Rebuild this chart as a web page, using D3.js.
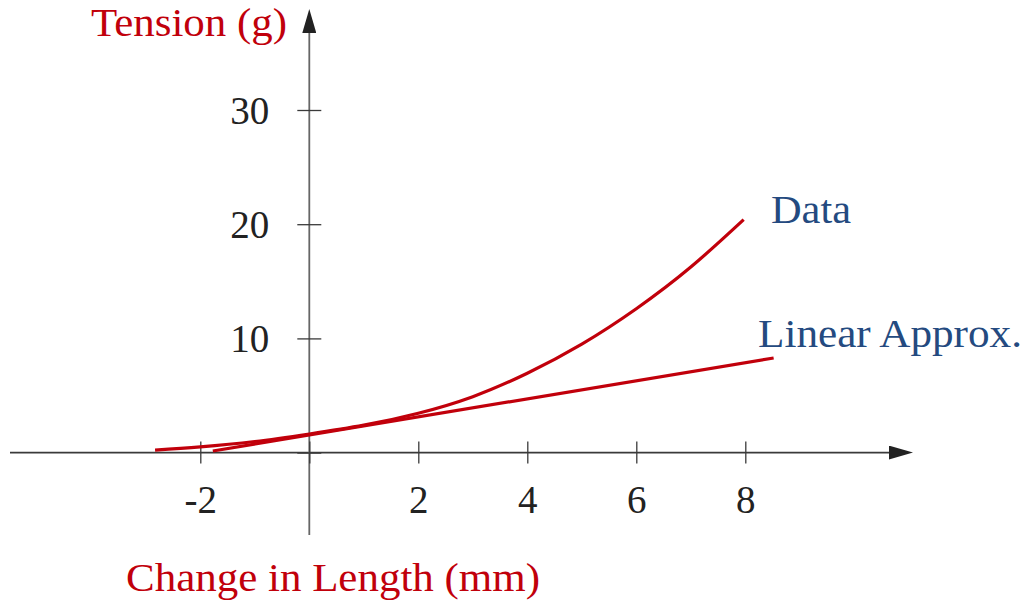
<!DOCTYPE html>
<html>
<head>
<meta charset="utf-8">
<script src="https://cdn.jsdelivr.net/npm/d3@7"></script>
<style>
  html, body { margin: 0; padding: 0; background: #fff; }
  svg { display: block; }
  text { font-family: "Liberation Serif", "DejaVu Serif", serif; }
</style>
</head>
<body>
<svg id="chart" width="1034" height="604"></svg>
<script>
// Measured tension of the string versus its change in length
const dataX = [-2.83, -2, -1, 0, 1, 2, 3, 4, 5, 6, 7, 7.97];
const dataY = [0.22, 0.5, 0.97, 1.63, 2.4, 3.45, 4.9, 6.95, 9.5, 12.6, 16.25, 20.4];

// Straight-line approximation (tangent near the origin)
const linearX = [-1.77, 8.52];
const linearY = [0.14, 8.28];

// Axis ticks
const xTicks = [-2, 0, 2, 4, 6, 8];
const xTickLabels = ["-2", "", "2", "4", "6", "8"];
const yTicks = [0, 10, 20, 30];
const yTickLabels = ["", "10", "20", "30"];

const RED = "#c1000b";
const BLUE = "#244a80";
const AXIS = "#3a3a3a";

const svg = d3.select("#chart");

const x = d3.scaleLinear().domain([-2, 8]).range([200.3, 745.3]);
const y = d3.scaleLinear().domain([0, 30]).range([452.6, 110]);

const x0 = x(0), y0 = y(0);

// Arrowheads
const defs = svg.append("defs");
defs.append("marker")
  .attr("id", "arrow")
  .attr("viewBox", "0 0 24 14")
  .attr("refX", 0).attr("refY", 7)
  .attr("markerWidth", 24).attr("markerHeight", 14)
  .attr("markerUnits", "userSpaceOnUse")
  .attr("orient", "auto")
  .append("path")
  .attr("d", "M0,0 L24,7 L0,14 Z")
  .attr("fill", "#222");

// Axis lines
svg.append("line")
  .attr("x1", 10).attr("y1", y0).attr("x2", 889).attr("y2", y0)
  .attr("stroke", AXIS).attr("stroke-width", 1.8)
  .attr("marker-end", "url(#arrow)");
svg.append("line")
  .attr("x1", x0).attr("y1", 535).attr("x2", x0).attr("y2", 33)
  .attr("stroke", "#666").attr("stroke-width", 1.8)
  .attr("marker-end", "url(#arrow)");

// X axis ticks (crossing the axis line)
const xAxis = d3.axisBottom(x)
  .tickValues(xTicks)
  .tickSize(11)
  .tickFormat((d, i) => xTickLabels[i]);
const gx = svg.append("g")
  .attr("transform", `translate(0,${y0})`)
  .call(xAxis);
gx.select(".domain").remove();
gx.selectAll(".tick line")
  .attr("y1", -11).attr("y2", 11)
  .attr("stroke", AXIS).attr("stroke-width", 1.3);
gx.selectAll(".tick text")
  .attr("y", 60).attr("dy", 0)
  .attr("fill", "#222")
  .style("font-family", "'Liberation Serif', serif")
  .style("font-size", "39px");

// Y axis ticks
const yAxis = d3.axisLeft(y)
  .tickValues(yTicks)
  .tickSize(12)
  .tickFormat((d, i) => yTickLabels[i]);
const gy = svg.append("g")
  .attr("transform", `translate(${x0},0)`)
  .call(yAxis);
gy.select(".domain").remove();
gy.selectAll(".tick line")
  .attr("x1", -12).attr("x2", 12)
  .attr("stroke", AXIS).attr("stroke-width", 1.3);
gy.selectAll(".tick text")
  .attr("x", -40).attr("dy", "0.34em")
  .attr("fill", "#222")
  .style("font-family", "'Liberation Serif', serif")
  .style("font-size", "39px");

// Curves
const line = d3.line()
  .x(d => x(d[0]))
  .y(d => y(d[1]))
  .curve(d3.curveNatural);

svg.append("path")
  .datum(dataX.map((v, i) => [v, dataY[i]]))
  .attr("d", line)
  .attr("fill", "none")
  .attr("stroke", RED)
  .attr("stroke-width", 3.2)
  .attr("stroke-linecap", "butt");

svg.append("path")
  .datum(linearX.map((v, i) => [v, linearY[i]]))
  .attr("d", d3.line().x(d => x(d[0])).y(d => y(d[1])))
  .attr("fill", "none")
  .attr("stroke", RED)
  .attr("stroke-width", 3.2);

// Labels
function label(txt, px, py, color, width) {
  svg.append("text")
    .attr("x", px).attr("y", py)
    .attr("fill", color)
    .attr("textLength", width)
    .attr("lengthAdjust", "spacingAndGlyphs")
    .style("font-size", "40px")
    .text(txt);
}
label("Tension (g)", 91, 35.5, RED, 196);
label("Change in Length (mm)", 126, 590.5, RED, 414);
label("Data", 771, 222.5, BLUE, 80);
label("Linear Approx.", 758, 346.5, BLUE, 264);
</script>
</body>
</html>
